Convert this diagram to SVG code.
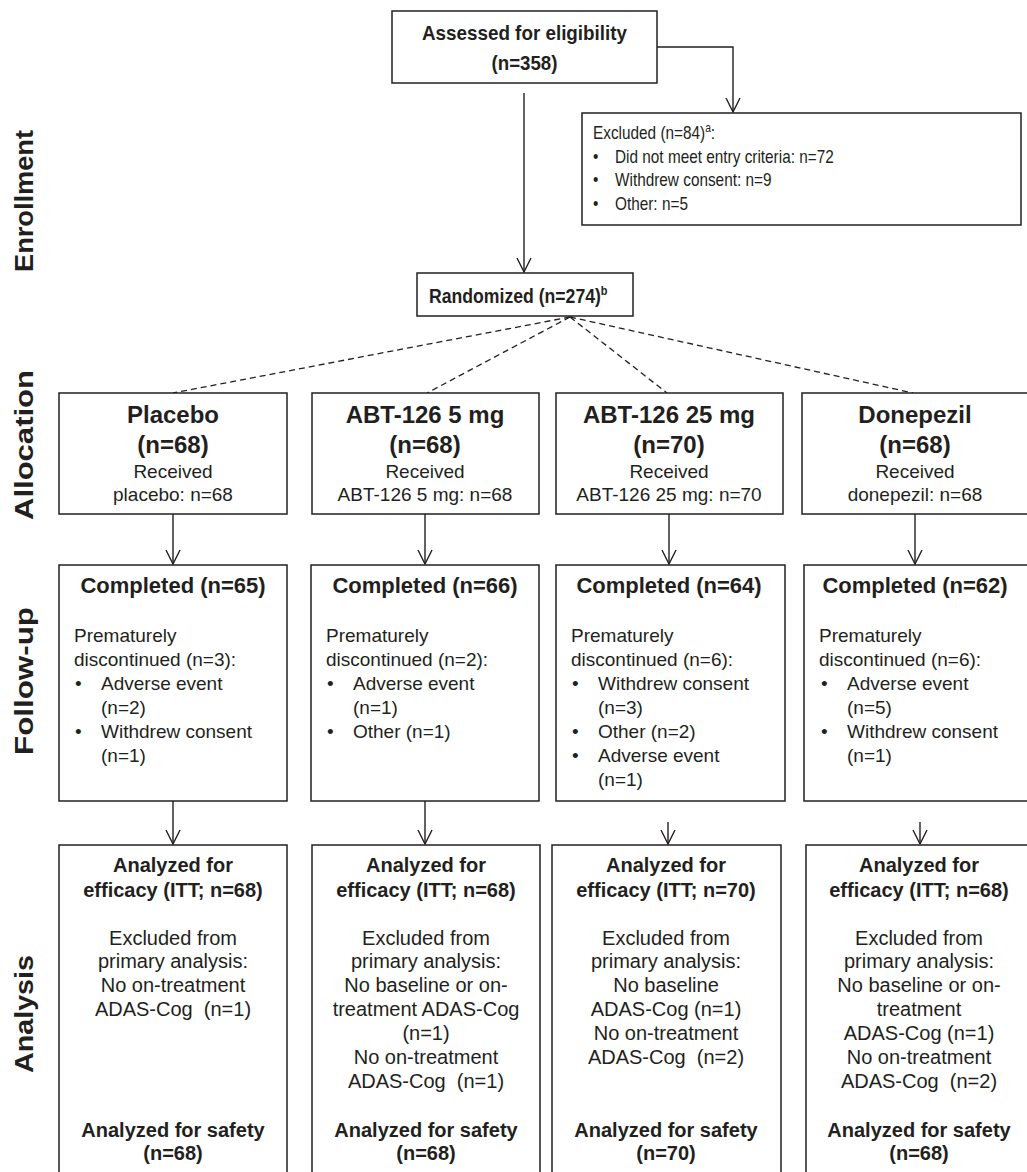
<svg xmlns="http://www.w3.org/2000/svg" width="1027" height="1172" viewBox="0 0 1027 1172">
<style>
text{font-family:"Liberation Sans",Arial,sans-serif;fill:#231f20;}
.b{font-weight:bold;}
.box{fill:#fff;stroke:#231f20;stroke-width:1.5;}
.c{text-anchor:middle;}
.r19{font-size:19px;}
.r20{font-size:20px;white-space:pre;}
.b20{font-size:20px;font-weight:bold;}
.b22{font-size:22px;font-weight:bold;}
.b24{font-size:24px;font-weight:bold;}
.side{font-size:25px;font-weight:bold;text-anchor:middle;}
.ex{font-size:18px;}
.ln{fill:none;stroke:#231f20;stroke-width:1.4;}
.dash{fill:none;stroke:#231f20;stroke-width:1.3;stroke-dasharray:6 4;}
</style>
<defs>
<marker id="arr" markerUnits="userSpaceOnUse" markerWidth="20" markerHeight="20" viewBox="-16 -10 20 20" refX="0" refY="0" orient="auto">
<path d="M-14,-7 L0,0 L-14,7" fill="none" stroke="#231f20" stroke-width="1.4"/>
</marker>
</defs>
<rect width="1027" height="1172" fill="#fff"/>

<g id="side-labels">
<text class="side" transform="translate(33,201) rotate(-90)" textLength="142" lengthAdjust="spacingAndGlyphs">Enrollment</text>
<text class="side" transform="translate(33,445) rotate(-90)" textLength="150" lengthAdjust="spacingAndGlyphs">Allocation</text>
<text class="side" transform="translate(33,681) rotate(-90)" textLength="148" lengthAdjust="spacingAndGlyphs">Follow-up</text>
<text class="side" transform="translate(33,1014) rotate(-90)" textLength="118" lengthAdjust="spacingAndGlyphs">Analysis</text>
</g>

<g id="connectors">
<path class="ln" d="M657,47 H733 V112" marker-end="url(#arr)"/>
<path class="ln" d="M524,93 V272" marker-end="url(#arr)"/>
<path class="dash" d="M570,317 L173,393"/>
<path class="dash" d="M570,317 L427,393"/>
<path class="dash" d="M570,317 L667,393"/>
<path class="dash" d="M570,317 L913,393"/>
<path class="ln" d="M173,514 V564" marker-end="url(#arr)"/>
<path class="ln" d="M425,514 V564" marker-end="url(#arr)"/>
<path class="ln" d="M669,514 V564" marker-end="url(#arr)"/>
<path class="ln" d="M915,514 V564" marker-end="url(#arr)"/>
<path class="ln" d="M173,801 V844" marker-end="url(#arr)"/>
<path class="ln" d="M425,801 V844" marker-end="url(#arr)"/>
<path class="ln" d="M668,822 V844" marker-end="url(#arr)"/>
<path class="ln" d="M920,822 V844" marker-end="url(#arr)"/>
</g>

<g id="assessed">
<rect class="box" x="392" y="11" width="265" height="72"/>
<text class="b c" x="524.5" y="40" font-size="21" textLength="205" lengthAdjust="spacingAndGlyphs">Assessed for eligibility</text>
<text class="b c" x="524.5" y="70" font-size="21" textLength="66" lengthAdjust="spacingAndGlyphs">(n=358)</text>
</g>

<g id="excluded">
<rect class="box" x="582" y="113" width="439" height="112"/>
<g transform="translate(593,0) scale(0.853,1)">
<text class="ex" x="0" y="139">Excluded (n=84)<tspan font-size="12" dy="-7">a</tspan><tspan dy="7">:</tspan></text>
<text class="ex" x="0" y="163">•</text>
<text class="ex" x="25.8" y="163">Did not meet entry criteria: n=72</text>
<text class="ex" x="0" y="186">•</text>
<text class="ex" x="25.8" y="186">Withdrew consent: n=9</text>
<text class="ex" x="0" y="210">•</text>
<text class="ex" x="25.8" y="210">Other: n=5</text>
</g>
</g>

<g id="randomized">
<rect class="box" x="417" y="273" width="216" height="43"/>
<g transform="translate(429,0) scale(0.84,1)">
<text class="b" x="0" y="303" font-size="21">Randomized (n=274)<tspan font-size="13" dy="-8">b</tspan></text>
</g>
</g>

<g id="alloc-placebo">
<rect class="box" x="59" y="393" width="228" height="121"/>
<text class="b24 c" x="173" y="423">Placebo</text>
<text class="b24 c" x="173" y="453">(n=68)</text>
<text class="r19 c" x="173" y="478">Received</text>
<text class="r19 c" x="173" y="501">placebo: n=68</text>
</g>
<g id="alloc-abt5">
<rect class="box" x="312" y="393" width="227" height="121"/>
<text class="b24 c" x="425" y="423">ABT-126 5 mg</text>
<text class="b24 c" x="425" y="453">(n=68)</text>
<text class="r19 c" x="425" y="478">Received</text>
<text class="r19 c" x="425" y="501">ABT-126 5 mg: n=68</text>
</g>
<g id="alloc-abt25">
<rect class="box" x="556" y="393" width="227" height="121"/>
<text class="b24 c" x="669" y="423">ABT-126 25 mg</text>
<text class="b24 c" x="669" y="453">(n=70)</text>
<text class="r19 c" x="669" y="478">Received</text>
<text class="r19 c" x="669" y="501">ABT-126 25 mg: n=70</text>
</g>
<g id="alloc-donepezil">
<rect class="box" x="802" y="393" width="226" height="121"/>
<text class="b24 c" x="915" y="423">Donepezil</text>
<text class="b24 c" x="915" y="453">(n=68)</text>
<text class="r19 c" x="915" y="478">Received</text>
<text class="r19 c" x="915" y="501">donepezil: n=68</text>
</g>

<g id="fu-placebo">
<rect class="box" x="59" y="565" width="228" height="236"/>
<text class="b22 c" x="173" y="593">Completed (n=65)</text>
<text class="r19" x="74" y="642">Prematurely</text>
<text class="r19" x="74" y="666">discontinued (n=3):</text>
<text class="r19" x="75" y="690">•</text>
<text class="r19" x="101" y="690">Adverse event</text>
<text class="r19" x="101" y="714">(n=2)</text>
<text class="r19" x="75" y="738">•</text>
<text class="r19" x="101" y="738">Withdrew consent</text>
<text class="r19" x="101" y="762">(n=1)</text>
</g>
<g id="fu-abt5">
<rect class="box" x="311" y="565" width="228" height="236"/>
<text class="b22 c" x="425" y="593">Completed (n=66)</text>
<text class="r19" x="326" y="642">Prematurely</text>
<text class="r19" x="326" y="666">discontinued (n=2):</text>
<text class="r19" x="327" y="690">•</text>
<text class="r19" x="353" y="690">Adverse event</text>
<text class="r19" x="353" y="714">(n=1)</text>
<text class="r19" x="327" y="738">•</text>
<text class="r19" x="353" y="738">Other (n=1)</text>
</g>
<g id="fu-abt25">
<rect class="box" x="556" y="565" width="229" height="236"/>
<text class="b22 c" x="669" y="593">Completed (n=64)</text>
<text class="r19" x="571" y="642">Prematurely</text>
<text class="r19" x="571" y="666">discontinued (n=6):</text>
<text class="r19" x="572" y="690">•</text>
<text class="r19" x="598" y="690">Withdrew consent</text>
<text class="r19" x="598" y="714">(n=3)</text>
<text class="r19" x="572" y="738">•</text>
<text class="r19" x="598" y="738">Other (n=2)</text>
<text class="r19" x="572" y="762">•</text>
<text class="r19" x="598" y="762">Adverse event</text>
<text class="r19" x="598" y="786">(n=1)</text>
</g>
<g id="fu-donepezil">
<rect class="box" x="804" y="565" width="224" height="236"/>
<text class="b22 c" x="915" y="593">Completed (n=62)</text>
<text class="r19" x="819" y="642">Prematurely</text>
<text class="r19" x="819" y="666">discontinued (n=6):</text>
<text class="r19" x="821" y="690">•</text>
<text class="r19" x="847" y="690">Adverse event</text>
<text class="r19" x="847" y="714">(n=5)</text>
<text class="r19" x="821" y="738">•</text>
<text class="r19" x="847" y="738">Withdrew consent</text>
<text class="r19" x="847" y="762">(n=1)</text>
</g>

<g id="an-placebo">
<rect class="box" x="59" y="845" width="228" height="340"/>
<text class="b20 c" x="173" y="872">Analyzed for</text>
<text class="b20 c" x="173" y="897">efficacy (ITT; n=68)</text>
<text class="r20 c" x="173" y="945">Excluded from</text>
<text class="r20 c" x="173" y="968">primary analysis:</text>
<text class="r20 c" x="173" y="992">No on-treatment</text>
<text class="r20 c" x="173" y="1016">ADAS-Cog  (n=1)</text>
<text class="b20 c" x="173" y="1137">Analyzed for safety</text>
<text class="b20 c" x="173" y="1160">(n=68)</text>
</g>
<g id="an-abt5">
<rect class="box" x="312" y="845" width="228" height="340"/>
<text class="b20 c" x="426" y="872">Analyzed for</text>
<text class="b20 c" x="426" y="897">efficacy (ITT; n=68)</text>
<text class="r20 c" x="426" y="945">Excluded from</text>
<text class="r20 c" x="426" y="968">primary analysis:</text>
<text class="r20 c" x="426" y="992">No baseline or on-</text>
<text class="r20 c" x="426" y="1016">treatment ADAS-Cog</text>
<text class="r20 c" x="426" y="1040">(n=1)</text>
<text class="r20 c" x="426" y="1064">No on-treatment</text>
<text class="r20 c" x="426" y="1088">ADAS-Cog  (n=1)</text>
<text class="b20 c" x="426" y="1137">Analyzed for safety</text>
<text class="b20 c" x="426" y="1160">(n=68)</text>
</g>
<g id="an-abt25">
<rect class="box" x="552" y="845" width="229" height="340"/>
<text class="b20 c" x="666" y="872">Analyzed for</text>
<text class="b20 c" x="666" y="897">efficacy (ITT; n=70)</text>
<text class="r20 c" x="666" y="945">Excluded from</text>
<text class="r20 c" x="666" y="968">primary analysis:</text>
<text class="r20 c" x="666" y="992">No baseline</text>
<text class="r20 c" x="666" y="1016">ADAS-Cog (n=1)</text>
<text class="r20 c" x="666" y="1040">No on-treatment</text>
<text class="r20 c" x="666" y="1064">ADAS-Cog  (n=2)</text>
<text class="b20 c" x="666" y="1137">Analyzed for safety</text>
<text class="b20 c" x="666" y="1160">(n=70)</text>
</g>
<g id="an-donepezil">
<rect class="box" x="806" y="845" width="224" height="340"/>
<text class="b20 c" x="919" y="872">Analyzed for</text>
<text class="b20 c" x="919" y="897">efficacy (ITT; n=68)</text>
<text class="r20 c" x="919" y="945">Excluded from</text>
<text class="r20 c" x="919" y="968">primary analysis:</text>
<text class="r20 c" x="919" y="992">No baseline or on-</text>
<text class="r20 c" x="919" y="1016">treatment</text>
<text class="r20 c" x="919" y="1040">ADAS-Cog (n=1)</text>
<text class="r20 c" x="919" y="1064">No on-treatment</text>
<text class="r20 c" x="919" y="1088">ADAS-Cog  (n=2)</text>
<text class="b20 c" x="919" y="1137">Analyzed for safety</text>
<text class="b20 c" x="919" y="1160">(n=68)</text>
</g>
</svg>
